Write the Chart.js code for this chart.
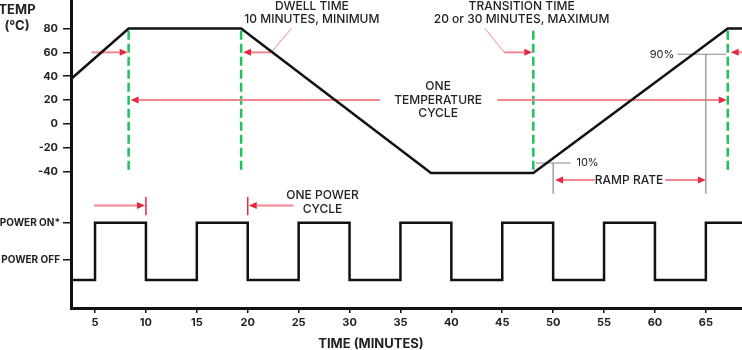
<!DOCTYPE html>
<html>
<head>
<meta charset="utf-8">
<script src="https://cdn.jsdelivr.net/npm/chart.js@4.4.0/dist/chart.umd.min.js"></script>
<style>
  html, body { margin: 0; padding: 0; background: #fff; }
  #wrap { width: 742px; height: 350px; position: relative; }
</style>
</head>
<body>
<div id="wrap"><canvas id="chart"></canvas></div>
<script>
// ----- values -----
// temperature profile (minutes, °C)
var tempTimes = [2.64, 8.3, 19.35, 38.0, 48.05, 67.15, 68.55];
var tempValues = [37.7, 80, 80, -41, -41, 80, 80];

// power on/off square wave (minutes, 1 = on, 0 = off)
var powerTimes = [0, 5, 10, 15, 20, 25, 30, 35, 40, 45, 50, 55, 60, 65, 70];
var powerStates = [0, 1, 0, 1, 0, 1, 0, 1, 0, 1, 0, 1, 0, 1, 1];

// tick labels
var timeTicks = [5, 10, 15, 20, 25, 30, 35, 40, 45, 50, 55, 60, 65];
var tempTicks = [80, 60, 40, 20, 0, -20, -40];
var powerTicks = [1, 0.35];
var powerTickLabels = ["POWER ON*", "POWER OFF"];

// annotation anchors (minutes / °C)
var cycleMarks = [8.3, 19.35, 48.05, 67.15];   // green dashed lines
var rampWindow = [50, 65];                     // ramp rate span
var rampLevels = [-32.7, 58.4];                // 10% and 90% levels

var BLACK = "#111";
var PINK = "#f2878f";
var RED = "#e4283f";
var GREEN = "#1fc25a";
var GREY = "#8a8a8a";
var TEXT = "#222";
var FONT = "Inter, 'Noto Sans', sans-serif";
var NOTE_FONT = "500 12px " + FONT;

function toPoints(xs, ys) {
  return xs.map(function(x, i) { return { x: x, y: ys[i] }; });
}

// Draws a straight arrow, head sitting on (x2, y2)
function arrow(ctx, x1, y1, x2, y2) {
  var ang = Math.atan2(y2 - y1, x2 - x1);
  var len = 8, half = 3.5;
  var bx = x2 - Math.cos(ang) * len, by = y2 - Math.sin(ang) * len;
  ctx.strokeStyle = PINK;
  ctx.lineWidth = 2;
  ctx.beginPath();
  ctx.moveTo(x1, y1);
  ctx.lineTo(bx, by);
  ctx.stroke();
  ctx.fillStyle = RED;
  ctx.beginPath();
  ctx.moveTo(x2, y2);
  ctx.lineTo(bx - Math.sin(ang) * half, by + Math.cos(ang) * half);
  ctx.lineTo(bx + Math.sin(ang) * half, by - Math.cos(ang) * half);
  ctx.closePath();
  ctx.fill();
}

function line(ctx, x1, y1, x2, y2, color, width) {
  ctx.strokeStyle = color;
  ctx.lineWidth = width;
  ctx.beginPath();
  ctx.moveTo(x1, y1);
  ctx.lineTo(x2, y2);
  ctx.stroke();
}

function text(ctx, str, x, y, align, font) {
  ctx.fillStyle = TEXT;
  ctx.font = font || NOTE_FONT;
  ctx.textAlign = align || "center";
  ctx.textBaseline = "middle";
  ctx.fillText(str, x, y);
}

// Everything that is not a data series: markers, arrows, notes
var annotate = {
  id: "annotate",
  beforeDatasetsDraw: function(chart) {
    var ctx = chart.ctx;
    var sx = chart.scales.x, sy = chart.scales.y, sp = chart.scales.yPower;
    function X(t) { return sx.getPixelForValue(t); }
    function Y(v) { return sy.getPixelForValue(v); }
    function P(v) { return sp.getPixelForValue(v); }
    ctx.save();

    // green dashed cycle markers
    ctx.setLineDash([9, 4]);
    cycleMarks.forEach(function(t) {
      line(ctx, X(t), Y(78), X(t), Y(-40), GREEN, 2.5);
    });
    ctx.setLineDash([]);

    // dwell time
    arrow(ctx, X(4.65), Y(60), X(cycleMarks[0]) - 1, Y(60));
    arrow(ctx, X(22.3), Y(60), X(cycleMarks[1]) + 2, Y(60));
    line(ctx, X(22.3), Y(60), X(24.3), Y(80), PINK, 1);
    text(ctx, "DWELL TIME", X(26.3), 6);
    text(ctx, "10 MINUTES, MINIMUM", X(26.3), 19);

    // transition time
    line(ctx, X(43.3), Y(80), X(45.2), Y(60), PINK, 1);
    arrow(ctx, X(45.2), Y(60), X(cycleMarks[2]) - 1, Y(60));
    arrow(ctx, sx.right, Y(60), X(cycleMarks[3]) + 3, Y(60));
    text(ctx, "TRANSITION TIME", X(46.9), 6);
    text(ctx, "20 or 30 MINUTES, MAXIMUM", X(46.9), 19);

    // one temperature cycle
    arrow(ctx, X(33.0), Y(20), X(cycleMarks[0]) + 2, Y(20));
    arrow(ctx, X(44.5), Y(20), X(cycleMarks[3]) - 1, Y(20));
    text(ctx, "ONE", X(38.7), Y(20) - 13.5);
    text(ctx, "TEMPERATURE", X(38.7), Y(20));
    text(ctx, "CYCLE", X(38.7), Y(20) + 13.5);

    // ramp rate: 10% / 90% guides
    line(ctx, X(48.3), Y(rampLevels[0]), X(51.7), Y(rampLevels[0]), GREY, 1.2);
    line(ctx, X(rampWindow[0]), Y(rampLevels[0]), X(rampWindow[0]), Y(-58.6), GREY, 1.2);
    text(ctx, "10%", X(51.7) + 6, Y(rampLevels[0]), "left", "11px " + FONT);
    line(ctx, X(62.2), Y(rampLevels[1]), X(67.0), Y(rampLevels[1]), GREY, 1.2);
    line(ctx, X(rampWindow[1]), Y(rampLevels[1]), X(rampWindow[1]), Y(-58.6), GREY, 1.2);
    text(ctx, "90%", X(62.2) - 3, Y(rampLevels[1]), "right", "11px " + FONT);
    arrow(ctx, X(54.1), Y(-46.9), X(rampWindow[0]) + 2, Y(-46.9));
    arrow(ctx, X(61.0), Y(-46.9), X(rampWindow[1]), Y(-46.9));
    text(ctx, "RAMP RATE", X(57.45), Y(-46.9));

    // one power cycle
    line(ctx, X(10), P(1.45), X(10), P(1.13), RED, 1.5);
    line(ctx, X(20), P(1.45), X(20), P(1.13), RED, 1.5);
    arrow(ctx, X(4.9), P(1.3), X(10) - 1, P(1.3));
    arrow(ctx, X(24.5), P(1.3), X(20) + 1, P(1.3));
    text(ctx, "ONE POWER", X(27.35), P(1.48));
    text(ctx, "CYCLE", X(27.35), P(1.24));

    // axis titles
    text(ctx, "TEMP", 17, 10, "center", "bold 13px " + FONT);
    text(ctx, "(\u00B0C)", 17, 26, "center", "bold 13px " + FONT);
    text(ctx, "TIME (MINUTES)", 371, 344, "center", "bold 13px " + FONT);

    ctx.restore();
  }
};

function noPad(scale) {
  scale.paddingTop = 0;
  scale.paddingBottom = 0;
  scale.paddingLeft = 0;
  scale.paddingRight = 0;
}

var tickFont = { family: FONT, size: 11, weight: "bold" };
var powerFont = { family: FONT, size: 10, weight: "bold" };

new Chart(document.getElementById("chart"), {
  type: "line",
  data: {
    datasets: [
      {
        label: "Temperature",
        data: toPoints(tempTimes, tempValues),
        yAxisID: "y",
        borderColor: BLACK,
        borderWidth: 2.5,
        pointRadius: 0,
        tension: 0,
      },
      {
        label: "Power",
        data: toPoints(powerTimes, powerStates),
        yAxisID: "yPower",
        stepped: "before",
        borderColor: BLACK,
        borderWidth: 2.5,
        pointRadius: 0,
      },
    ],
  },
  options: {
    responsive: true,
    maintainAspectRatio: false,
    animation: false,
    layout: { padding: 0 },
    plugins: {
      legend: { display: false },
      tooltip: { enabled: false },
    },
    scales: {
      x: {
        type: "linear",
        min: 2.64,
        max: 68.55,
        border: { display: true, color: BLACK, width: 3 },
        grid: { display: true, drawOnChartArea: false, drawTicks: true, tickLength: 5, tickColor: BLACK, lineWidth: 1.5 },
        ticks: { color: TEXT, font: tickFont, padding: 3, maxRotation: 0 },
        afterBuildTicks: function(scale) {
          scale.ticks = timeTicks.map(function(v) { return { value: v }; });
        },
        afterFit: function(scale) {
          noPad(scale);
          scale.height = 42;
        },
      },
      // left boxes are stacked in reverse order, so the power axis is listed first
      yPower: {
        type: "linear",
        position: "left",
        stack: "left",
        stackWeight: 118,
        min: -0.489,
        max: 1.571,
        border: { display: true, color: BLACK, width: 3 },
        grid: { display: true, drawOnChartArea: false, drawTicks: true, tickLength: 8, tickColor: BLACK, lineWidth: 1.5 },
        ticks: {
          color: TEXT,
          font: powerFont,
          padding: 3,
          callback: function(value) {
            var i = powerTicks.indexOf(value);
            return i >= 0 ? powerTickLabels[i] : "";
          },
        },
        afterBuildTicks: function(scale) {
          scale.ticks = powerTicks.map(function(v) { return { value: v }; });
        },
        afterFit: function(scale) {
          noPad(scale);
          scale.width = 71;
        },
      },
      y: {
        type: "linear",
        position: "left",
        stack: "left",
        stackWeight: 190,
        min: -55.3,
        max: 103.85,
        border: { display: true, color: BLACK, width: 3 },
        grid: { display: true, drawOnChartArea: false, drawTicks: true, tickLength: 8, tickColor: BLACK, lineWidth: 1.5 },
        ticks: { color: TEXT, font: tickFont, padding: 5 },
        afterBuildTicks: function(scale) {
          scale.ticks = tempTicks.map(function(v) { return { value: v }; });
        },
        afterFit: function(scale) {
          noPad(scale);
          scale.width = 71;
        },
      },
    },
  },
  plugins: [annotate],
});
</script>
</body>
</html>
